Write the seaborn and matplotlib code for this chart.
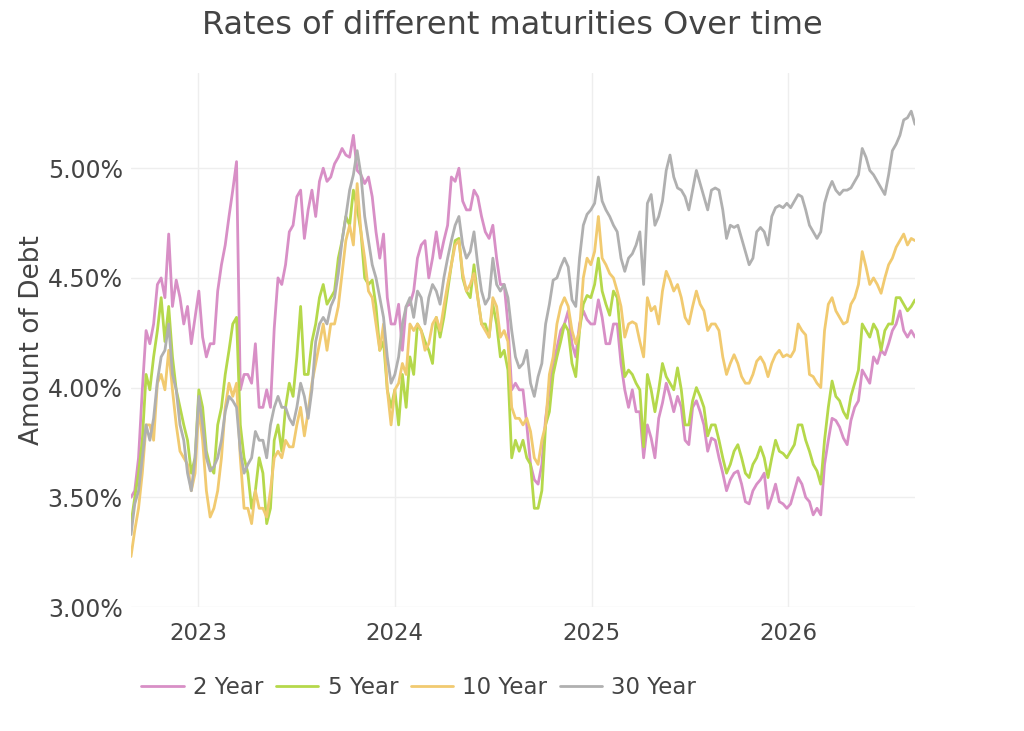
import matplotlib
matplotlib.use('Agg')
import matplotlib.pyplot as plt
import matplotlib.dates as mdates
from matplotlib.ticker import FuncFormatter
import seaborn as sns
import pandas as pd

# --- DATA (weekly readings, in percent) ---
START_DATE = "2022-08-29"
N_POINTS = 209

rate_2y = [
    3.50, 3.53, 3.68, 3.99, 4.26, 4.20, 4.29, 4.47, 4.50, 4.41, 4.70, 4.37, 4.49, 4.41,
    4.29, 4.37, 4.20, 4.32, 4.44, 4.23, 4.14, 4.20, 4.20, 4.44, 4.56, 4.65, 4.78, 4.90,
    5.03, 3.99, 4.06, 4.06, 4.02, 4.20, 3.91,
    3.91, 3.99, 3.91, 4.27, 4.50, 4.47, 4.56, 4.71, 4.74, 4.87, 4.90, 4.68, 4.81, 4.90,
    4.78, 4.94, 5.00, 4.94, 4.96, 5.02, 5.05, 5.09, 5.06, 5.05, 5.15, 4.99, 4.97, 4.93,
    4.96, 4.87, 4.71, 4.59, 4.70, 4.41, 4.29,
    4.29, 4.38, 4.17, 4.37, 4.38, 4.44, 4.59, 4.65, 4.67, 4.50, 4.59, 4.71, 4.59, 4.67,
    4.74, 4.96, 4.94, 5.00, 4.85, 4.81, 4.81, 4.90, 4.87, 4.78, 4.71, 4.68, 4.74, 4.59,
    4.47, 4.47, 4.29, 3.99, 4.02, 3.99,
    3.99, 3.83, 3.65, 3.58, 3.56, 3.65, 3.86, 3.99, 4.11, 4.18, 4.26, 4.29, 4.35, 4.20,
    4.14, 4.29, 4.35, 4.31, 4.29, 4.29, 4.40, 4.32, 4.20, 4.20, 4.29, 4.29, 4.11, 3.99,
    3.91, 3.99, 3.89, 3.89, 3.68, 3.83, 3.77,
    3.68, 3.86, 3.93, 4.02, 3.96, 3.89, 3.96, 3.91, 3.76, 3.74, 3.91, 3.94, 3.89, 3.83,
    3.71, 3.77, 3.76, 3.68, 3.61, 3.53, 3.58, 3.61, 3.62, 3.56, 3.48, 3.47, 3.53, 3.56,
    3.58, 3.61, 3.45, 3.50, 3.56, 3.48,
    3.47, 3.45, 3.47, 3.53, 3.59, 3.56, 3.50, 3.48, 3.42, 3.45, 3.42, 3.65, 3.76, 3.86,
    3.85, 3.82, 3.77, 3.74, 3.85, 3.91, 3.94, 4.08, 4.05, 4.02, 4.14, 4.11, 4.17, 4.15,
    4.20, 4.26, 4.29, 4.35, 4.26, 4.23, 4.26, 4.23,
]
rate_5y = [
    3.38, 3.50, 3.61, 3.76, 4.06, 3.99, 4.14, 4.26, 4.41, 4.21, 4.37, 4.14, 3.99, 3.91,
    3.83, 3.76, 3.61, 3.68, 3.99, 3.91, 3.71, 3.64, 3.61, 3.83, 3.91, 4.06, 4.17, 4.29,
    4.32, 3.83, 3.68, 3.61, 3.45, 3.53, 3.68,
    3.61, 3.38, 3.45, 3.76, 3.83, 3.71, 3.91, 4.02, 3.96, 4.14, 4.37, 4.06, 4.06, 4.21,
    4.29, 4.41, 4.47, 4.38, 4.41, 4.44, 4.59, 4.67, 4.78, 4.74, 4.90, 4.82, 4.71, 4.50,
    4.47, 4.49, 4.37, 4.17, 4.21, 3.99, 3.91,
    3.99, 3.83, 4.06, 3.91, 4.14, 4.06, 4.29, 4.26, 4.21, 4.17, 4.11, 4.32, 4.23, 4.32,
    4.44, 4.56, 4.67, 4.68, 4.50, 4.44, 4.41, 4.56, 4.41, 4.29, 4.29, 4.23, 4.38, 4.29,
    4.14, 4.17, 4.08, 3.68, 3.76, 3.71,
    3.76, 3.68, 3.65, 3.45, 3.45, 3.53, 3.83, 3.89, 4.06, 4.14, 4.21, 4.29, 4.26, 4.11,
    4.05, 4.26, 4.38, 4.42, 4.41, 4.47, 4.59, 4.44, 4.38, 4.33, 4.44, 4.41, 4.21, 4.05,
    4.08, 4.06, 4.02, 3.99, 3.73, 4.06, 3.99,
    3.89, 3.99, 4.11, 4.05, 4.02, 3.99, 4.09, 3.99, 3.83, 3.83, 3.94, 4.00, 3.96, 3.91,
    3.78, 3.83, 3.83, 3.76, 3.68, 3.61, 3.65, 3.71, 3.74, 3.68, 3.61, 3.59, 3.65, 3.68,
    3.73, 3.68, 3.59, 3.68, 3.76, 3.71,
    3.70, 3.68, 3.71, 3.74, 3.83, 3.83, 3.76, 3.71, 3.65, 3.62, 3.56, 3.76, 3.91, 4.03,
    3.96, 3.94, 3.89, 3.86, 3.96, 4.02, 4.08, 4.29, 4.26, 4.23, 4.29, 4.26, 4.17, 4.26,
    4.29, 4.29, 4.41, 4.41, 4.38, 4.35, 4.37, 4.40,
]
rate_10y = [
    3.23, 3.35, 3.45, 3.61, 3.83, 3.83, 3.76, 4.02, 4.06, 3.99, 4.17, 3.99, 3.83, 3.71,
    3.68, 3.65, 3.53, 3.61, 3.91, 3.76, 3.53, 3.41, 3.45, 3.53, 3.68, 3.91, 4.02, 3.96,
    4.02, 3.68, 3.45, 3.45, 3.38, 3.53, 3.45,
    3.45, 3.41, 3.53, 3.68, 3.71, 3.68, 3.76, 3.73, 3.73, 3.83, 3.91, 3.78, 3.89, 4.02,
    4.11, 4.20, 4.29, 4.17, 4.29, 4.29, 4.37, 4.52, 4.67, 4.74, 4.65, 4.93, 4.71, 4.59,
    4.44, 4.41, 4.29, 4.17, 4.29, 3.99, 3.83,
    3.99, 4.02, 4.11, 4.06, 4.29, 4.26, 4.29, 4.26, 4.17, 4.20, 4.29, 4.32, 4.26, 4.37,
    4.47, 4.56, 4.65, 4.67, 4.52, 4.44, 4.47, 4.52, 4.41, 4.29, 4.26, 4.23, 4.41, 4.37,
    4.23, 4.26, 4.21, 3.91, 3.86, 3.86,
    3.83, 3.86, 3.80, 3.68, 3.65, 3.76, 3.83, 4.06, 4.14, 4.29, 4.37, 4.41, 4.37, 4.26,
    4.20, 4.26, 4.50, 4.59, 4.56, 4.62, 4.78, 4.59, 4.56, 4.52, 4.50, 4.44, 4.37, 4.23,
    4.29, 4.30, 4.29, 4.21, 4.14, 4.41, 4.35,
    4.37, 4.29, 4.44, 4.53, 4.49, 4.44, 4.47, 4.41, 4.32, 4.29, 4.37, 4.44, 4.38, 4.35,
    4.26, 4.29, 4.29, 4.26, 4.14, 4.06, 4.11, 4.15, 4.11, 4.05, 4.02, 4.02, 4.06, 4.12,
    4.14, 4.11, 4.05, 4.11, 4.15, 4.17,
    4.14, 4.15, 4.14, 4.17, 4.29, 4.26, 4.24, 4.06, 4.05, 4.02, 4.00, 4.26, 4.38, 4.41,
    4.35, 4.32, 4.29, 4.30, 4.38, 4.41, 4.47, 4.62, 4.55, 4.47, 4.50, 4.47, 4.43, 4.50,
    4.56, 4.59, 4.64, 4.67, 4.70, 4.65, 4.68, 4.67,
]
rate_30y = [
    3.33, 3.47, 3.53, 3.68, 3.83, 3.76, 3.86, 4.03, 4.14, 4.17, 4.29, 4.06, 3.99, 3.83,
    3.76, 3.61, 3.53, 3.68, 3.96, 3.83, 3.68, 3.62, 3.64, 3.68, 3.76, 3.89, 3.96, 3.94,
    3.91, 3.71, 3.61, 3.65, 3.68, 3.80, 3.76,
    3.76, 3.68, 3.83, 3.91, 3.96, 3.91, 3.91, 3.86, 3.83, 3.91, 4.02, 3.96, 3.86, 3.99,
    4.21, 4.29, 4.32, 4.29, 4.37, 4.41, 4.52, 4.67, 4.78, 4.90, 4.97, 5.08, 4.97, 4.78,
    4.67, 4.56, 4.50, 4.41, 4.32, 4.14, 4.02,
    4.06, 4.14, 4.29, 4.37, 4.41, 4.32, 4.44, 4.41, 4.29, 4.41, 4.47, 4.44, 4.38, 4.50,
    4.59, 4.67, 4.74, 4.78, 4.65, 4.59, 4.62, 4.71, 4.56, 4.44, 4.38, 4.41, 4.59, 4.47,
    4.44, 4.47, 4.41, 4.26, 4.14, 4.09,
    4.11, 4.17, 4.02, 3.96, 4.05, 4.11, 4.29, 4.38, 4.49, 4.50, 4.55, 4.59, 4.55, 4.40,
    4.37, 4.59, 4.74, 4.79, 4.81, 4.84, 4.96, 4.85, 4.81, 4.78, 4.74, 4.71, 4.59, 4.53,
    4.59, 4.61, 4.65, 4.71, 4.47, 4.84, 4.88,
    4.74, 4.78, 4.85, 4.99, 5.06, 4.96, 4.91, 4.90, 4.87, 4.81, 4.90, 4.99, 4.93, 4.87,
    4.81, 4.90, 4.91, 4.90, 4.81, 4.68, 4.74, 4.73, 4.74, 4.68, 4.62, 4.56, 4.59, 4.71,
    4.73, 4.71, 4.65, 4.78, 4.82, 4.83,
    4.82, 4.84, 4.82, 4.85, 4.88, 4.87, 4.81, 4.74, 4.71, 4.68, 4.71, 4.84, 4.90, 4.94,
    4.90, 4.88, 4.90, 4.90, 4.91, 4.94, 4.97, 5.09, 5.05, 4.99, 4.97, 4.94, 4.91, 4.88,
    4.97, 5.08, 5.11, 5.15, 5.22, 5.23, 5.26, 5.20,
]

MATURITIES = ["2 Year", "5 Year", "10 Year", "30 Year"]
COLORS = {"2 Year": "#d88fc6", "5 Year": "#b5d84b", "10 Year": "#f1ca70", "30 Year": "#b0b0b0"}
TEXT_COLOR = "#444444"

dates = pd.date_range(START_DATE, periods=N_POINTS, freq="7D")
wide = pd.DataFrame({"Date": dates, "2 Year": rate_2y, "5 Year": rate_5y,
                     "10 Year": rate_10y, "30 Year": rate_30y})
df = wide.melt(id_vars="Date", var_name="Maturity", value_name="Rate")

# --- PLOT ---
sns.set_theme(style="white")
plt.rcParams['font.family'] = ['DejaVu Sans']

fig = plt.figure(figsize=(10.24, 7.31), dpi=100)
ax = fig.add_axes([131 / 1024, 1 - 607 / 731, (915 - 131) / 1024, (607 - 73) / 731])

sns.lineplot(data=df, x="Date", y="Rate", hue="Maturity", hue_order=MATURITIES,
             palette=COLORS, linewidth=2.0, ax=ax)

handles, labels = ax.get_legend_handles_labels()
ax.get_legend().remove()

ax.set_xlim(dates[0], dates[-1])
ax.set_ylim(3.0, 5.434)
ax.set_yticks([3.0, 3.5, 4.0, 4.5, 5.0])
ax.yaxis.set_major_formatter(FuncFormatter(lambda v, p: f"{v:.2f}%"))
ax.xaxis.set_major_locator(mdates.YearLocator())
ax.xaxis.set_major_formatter(mdates.DateFormatter("%Y"))

ax.grid(True, color="#eeeeee", linewidth=1)
for s in ax.spines.values():
    s.set_visible(False)
ax.tick_params(axis="both", length=0, colors=TEXT_COLOR)
ax.tick_params(axis="y", pad=6, labelsize=17)
ax.tick_params(axis="x", pad=11, labelsize=16.5)

ax.set_xlabel("")
ax.set_ylabel("Amount of Debt", fontsize=19, color=TEXT_COLOR)
ax.yaxis.set_label_coords(-0.11, 0.5)

fig.text(0.5, 1 - 25 / 731, "Rates of different maturities Over time",
         ha="center", va="center", fontsize=23, color=TEXT_COLOR)

fig.legend(handles, labels, loc="center left", bbox_to_anchor=(130 / 1024, 1 - 688 / 731),
           ncol=4, frameon=False, fontsize=16.5, labelcolor=TEXT_COLOR,
           handlelength=1.85, handletextpad=0.4, columnspacing=0.55, borderpad=0)

fig.savefig("out.png", dpi=100)
